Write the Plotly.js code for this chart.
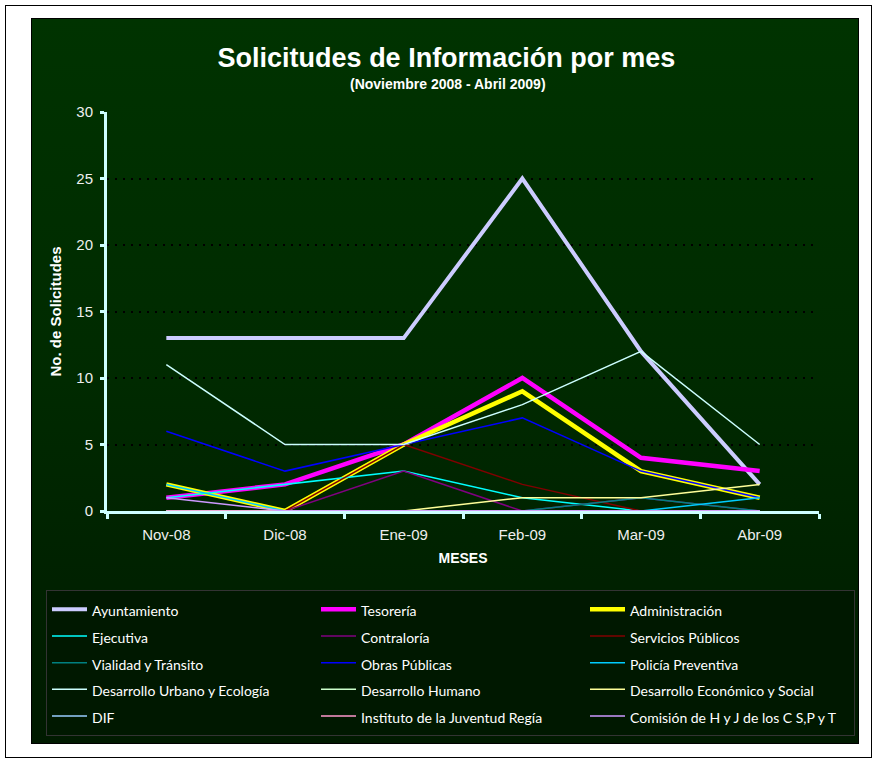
<!DOCTYPE html>
<html>
<head>
<meta charset="utf-8">
<script src="https://cdn.plot.ly/plotly-3.0.1.min.js"></script>
<style>
  html, body { margin:0; padding:0; background:#ffffff; }
  #frame { position:absolute; left:5px; top:5px; width:865px; height:751px; border:1px solid #000; background:#fff; }
  #bg { position:absolute; left:31px; top:18px; width:826px; height:724px; border:1px solid #000;
        background: linear-gradient(to bottom, #003300 0%, #002a00 50%, #001a00 100%); }
  #chart { position:absolute; left:0; top:0; width:877px; height:773px; }
</style>
</head>
<body>
<div id="frame"></div>
<div id="bg"></div>
<div id="chart"></div>
<script>
// ---- Data ----
const months = ['Nov-08', 'Dic-08', 'Ene-09', 'Feb-09', 'Mar-09', 'Abr-09'];
const seriesNames = ['Ayuntamiento', 'Tesorería', 'Administración', 'Ejecutiva', 'Contraloría',
  'Servicios Públicos', 'Vialidad y Tránsito', 'Obras Públicas', 'Policía Preventiva',
  'Desarrollo Urbano y Ecología', 'Desarrollo Humano', 'Desarrollo Económico y Social',
  'DIF', 'Instituto de la Juventud Regía', 'Comisión de H y J de los C S,P y T'];
const ayuntamiento   = [13, 13, 13, 25, 12, 2];
const tesoreria      = [1, 2, 5, 10, 4, 3];
const administracion = [2, 0, 5, 9, 3, 1];
const ejecutiva      = [1, 2, 3, 1, 0, 0];
const contraloria    = [0, 0, 3, 0, 1, 0];
const serviciosPub   = [0, 0, 5, 2, 0, 0];
const vialidad       = [0, 0, 0, 0, 1, 0];
const obrasPublicas  = [6, 3, 5, 7, 3, 1];
const policia        = [2, 0, 0, 0, 0, 1];
const desUrbano      = [11, 5, 5, 8, 12, 5];
const desHumano      = [0, 0, 0, 0, 0, 0];
const desEconomico   = [0, 0, 0, 1, 1, 2];
const dif            = [0, 0, 0, 0, 0, 0];
const instituto      = [0, 0, 0, 0, 0, 0];
const comision       = [1, 0, 0, 0, 0, 0];
const yTickVals = [0, 5, 10, 15, 20, 25, 30];

// ---- Styles ----
const values = [ayuntamiento, tesoreria, administracion, ejecutiva, contraloria, serviciosPub,
  vialidad, obrasPublicas, policia, desUrbano, desHumano, desEconomico, dif, instituto, comision];
const colors = ['#CCCCFF', '#FF00FF', '#FFFF00', '#00FFFF', '#800080', '#800000', '#008080',
  '#0000FF', '#00CCFF', '#CCFFFF', '#CCFFCC', '#FFFF99', '#99CCFF', '#FF99CC', '#CC99FF'];
const widths = [4, 4.5, 4.5, 1.5, 1.5, 1.5, 1.5, 1.5, 1.5, 1.5, 1.5, 1.5, 1.5, 1.5, 1.5];

const traces = values.map((v, i) => ({
  type: 'scatter', mode: 'lines', x: months, y: v,
  name: '<span style="font-size:14px">' + seriesNames[i] + '</span>',
  line: { color: colors[i], width: widths[i] },
  hoverinfo: 'skip'
}));

const FONT = 'Liberation Sans, Arial, sans-serif';
const layout = {
  width: 877, height: 773,
  margin: { l: 107, r: 58, t: 112, b: 262, pad: 0 },
  paper_bgcolor: 'rgba(0,0,0,0)',
  plot_bgcolor: 'rgba(0,0,0,0)',
  showlegend: true,
  title: {
    text: '<b>Solicitudes de Información por mes</b>',
    font: { family: FONT, size: 27, color: '#FFFFFF' },
    xref: 'container', yref: 'container',
    x: 0.509, xanchor: 'center', y: 1 - 58 / 773, yanchor: 'middle'
  },
  annotations: [{
    text: '<b>(Noviembre 2008 - Abril 2009)</b>',
    xref: 'paper', yref: 'paper', x: (448 - 107) / 712, y: (511 - 84) / 399,
    xanchor: 'center', yanchor: 'middle', showarrow: false,
    font: { family: FONT, size: 14, color: '#FFFFFF' }
  }],
  xaxis: {
    type: 'category',
    range: [-0.5, 5.5],
    tickson: 'boundaries',
    ticks: 'outside', ticklen: 5, tickwidth: 3, tickcolor: '#CCFFFF',
    showline: true, linecolor: '#CCFFFF', linewidth: 3,
    showgrid: false, zeroline: false,
    ticklabelstandoff: 8,
    tickfont: { family: FONT, size: 15, color: '#EEEEEE' },
    title: { text: '<b>MESES</b>', standoff: 12,
      font: { family: FONT, size: 14, color: '#FFFFFF' } },
    fixedrange: true
  },
  yaxis: {
    range: [0, 30],
    tickvals: yTickVals,
    ticks: 'outside', ticklen: 4, tickwidth: 3, tickcolor: '#CCFFFF',
    showline: true, linecolor: '#CCFFFF', linewidth: 3,
    showgrid: true, gridcolor: '#000000', gridwidth: 2, griddash: '2px,6px',
    zeroline: false,
    ticklabelstandoff: 4,
    tickfont: { family: FONT, size: 15, color: '#EEEEEE' },
    title: { text: '<b>No. de Solicitudes</b>', standoff: 12,
      font: { family: FONT, size: 15, color: '#FFFFFF' } },
    fixedrange: true
  },
  legend: {
    orientation: 'h',
    x: (46 - 107) / 712, xanchor: 'left',
    y: (511 - 590) / 399, yanchor: 'top',
    itemwidth: 35,
    entrywidth: 219, entrywidthmode: 'pixels',
    bgcolor: '#001800', bordercolor: '#333333', borderwidth: 1,
    font: { family: 'Lato, Open Sans, sans-serif', size: 18.2, color: '#FFFFFF' },
    traceorder: 'normal',
    itemclick: false, itemdoubleclick: false
  }
};

Plotly.newPlot('chart', traces, layout, { displayModeBar: false, staticPlot: true });
</script>
</body>
</html>
